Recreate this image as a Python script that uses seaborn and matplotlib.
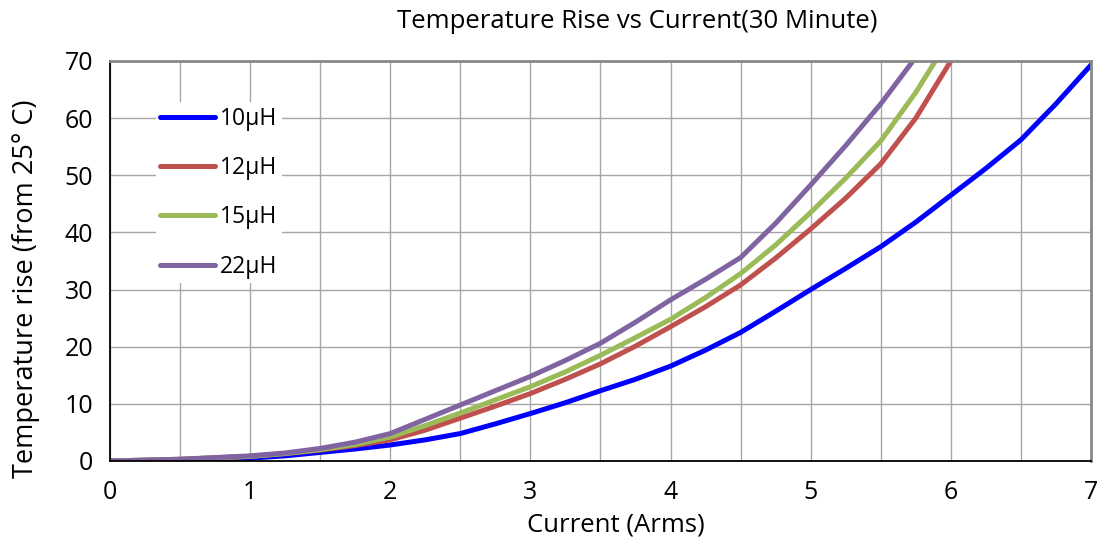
import numpy as np
import pandas as pd
import matplotlib
matplotlib.use("Agg")
import matplotlib.pyplot as plt
import seaborn as sns

# values
current_10 = [0, 0.5, 1.0, 1.25, 1.5, 1.75, 2.0, 2.25, 2.5, 2.75, 3.0, 3.25, 3.5, 3.75,
              4.0, 4.25, 4.5, 4.75, 5.0, 5.25, 5.5, 5.75, 6.0, 6.25, 6.5, 6.75, 7.0]
rise_10 = [0, 0.2, 0.5, 0.9, 1.5, 2.1, 2.8, 3.7, 4.8, 6.5, 8.3, 10.2, 12.3, 14.3,
           16.6, 19.4, 22.5, 26.2, 30.0, 33.7, 37.5, 41.8, 46.5, 51.2, 56.2, 62.5, 69.3]

current_12 = [0, 0.5, 1.0, 1.25, 1.5, 1.75, 2.0, 2.25, 2.5, 2.75, 3.0, 3.25, 3.5, 3.75,
              4.0, 4.25, 4.5, 4.75, 5.0, 5.25, 5.5, 5.75, 6.0]
rise_12 = [0, 0.3, 0.8, 1.3, 1.9, 2.7, 3.7, 5.4, 7.5, 9.6, 11.8, 14.3, 17.0, 20.1,
           23.5, 27.0, 30.8, 35.5, 40.6, 46.0, 52.0, 60.0, 70.0]

current_15 = [0, 0.5, 1.0, 1.25, 1.5, 1.75, 2.0, 2.25, 2.5, 2.75, 3.0, 3.25, 3.5, 3.75,
              4.0, 4.25, 4.5, 4.75, 5.0, 5.25, 5.5, 5.75, 5.89]
rise_15 = [0, 0.3, 0.8, 1.3, 2.0, 2.9, 4.2, 6.2, 8.4, 10.7, 13.0, 15.6, 18.5, 21.6,
           24.8, 28.6, 32.8, 37.8, 43.5, 49.5, 56.0, 64.5, 70.0]

current_22 = [0, 0.5, 1.0, 1.25, 1.5, 1.75, 2.0, 2.25, 2.5, 2.75, 3.0, 3.25, 3.5, 3.75,
              4.0, 4.25, 4.5, 4.75, 5.0, 5.25, 5.5, 5.73]
rise_22 = [0, 0.3, 0.9, 1.4, 2.2, 3.3, 4.8, 7.3, 9.8, 12.3, 14.8, 17.6, 20.6, 24.3,
           28.2, 31.8, 35.6, 41.6, 48.3, 55.2, 62.5, 70.0]

labels = ["10μH", "12μH", "15μH", "22μH"]
colors = ["#0000FF", "#C0504D", "#9BBB59", "#8064A2"]

x_ticks = [0, 1, 2, 3, 4, 5, 6, 7]
y_ticks = [0, 10, 20, 30, 40, 50, 60, 70]

frames = []
for lab, xs, ys in zip(labels,
                       [current_10, current_12, current_15, current_22],
                       [rise_10, rise_12, rise_15, rise_22]):
    frames.append(pd.DataFrame({"Current": xs, "Rise": ys, "Inductance": lab}))
df = pd.concat(frames, ignore_index=True)

sns.set_style("white")
plt.rcParams["font.family"] = ["Open Sans", "DejaVu Sans"]
plt.rcParams["text.color"] = "black"
plt.rcParams["axes.labelcolor"] = "black"

fig = plt.figure(figsize=(11.04, 5.44), dpi=100)
ax = fig.add_axes([0.0996, 0.1526, 0.8886, 0.7353])

sns.lineplot(data=df, x="Current", y="Rise", hue="Inductance",
             palette=colors, linewidth=3.6, sort=False, ax=ax,
             estimator=None)

ax.set_xlim(0, 7)
ax.set_ylim(0, 70)
ax.set_xticks(x_ticks)
ax.set_yticks(y_ticks)
ax.set_xticks(np.arange(0, 7.01, 0.5), minor=True)
ax.grid(True, which="both", axis="x", color="#a6a6a6", linewidth=1)
ax.grid(True, which="major", axis="y", color="#a6a6a6", linewidth=1)
ax.tick_params(axis="both", which="major", direction="in", length=4,
               labelsize=18, colors="black")
ax.tick_params(axis="x", which="major", pad=14)
ax.tick_params(axis="y", which="major", pad=12)
ax.tick_params(axis="x", which="minor", length=0)
for side in ["left", "bottom"]:
    ax.spines[side].set_color("black")
    ax.spines[side].set_linewidth(1.3)
for side in ["top", "right"]:
    ax.spines[side].set_color("#888888")
    ax.spines[side].set_linewidth(2)

ax.set_title("Temperature Rise vs Current(30 Minute)", fontsize=18.5, pad=23.5,
             x=0.537)
ax.set_xlabel("Current (Arms)", fontsize=18.5)
ax.xaxis.set_label_coords(0.516, -0.128)
ax.set_ylabel("Temperature rise (from 25° C)", fontsize=19.5)
ax.yaxis.set_label_coords(-0.071, 0.43)

leg = ax.legend(loc="upper left", bbox_to_anchor=(0.035, 0.925), frameon=True,
                framealpha=1, edgecolor="none", prop={"size": 16.5},
                handlelength=2.4, handletextpad=0.2, labelspacing=1.1,
                borderpad=0.2)
leg.get_frame().set_facecolor("white")
for line in leg.get_lines():
    line.set_linewidth(3.6)

fig.savefig("out.png", dpi=100)
